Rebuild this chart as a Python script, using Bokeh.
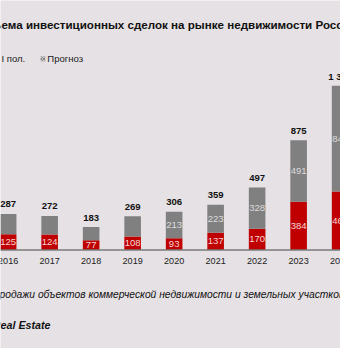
from bokeh.plotting import figure
from bokeh.models import ColumnDataSource, Range1d, Span
from bokeh.core.properties import value
from bokeh.embed import file_html
from bokeh.resources import INLINE

years = [2016, 2017, 2018, 2019, 2020, 2021, 2022, 2023, 2024]
year_labels = ["2016", "2017", "2018", "2019", "2020", "2021", "2022", "2023", "2024"]
first_half = [125, 124, 77, 108, 93, 137, 170, 384, 466]
rest = [162, 148, 106, 161, 213, 223, 328, 491, 844]
rest_labels = ["", "", "", "", "213", "223", "328", "491", "844"]
totals = [287, 272, 183, 269, 306, 359, 497, 875, 1310]
total_labels = ["287", "272", "183", "269", "306", "359", "497", "875", "1 310"]

title_text = "объема инвестиционных сделок на рынке недвижимости России, млрд руб."
legend_labels = ["I пол.", "Прогноз"]
note_text = "продажи объектов коммерческой недвижимости и земельных участков"
source_text = "Real Estate"

BG = "#E6E1E4"
RED = "#C00000"
GREY = "#808080"
FONT = "Liberation Sans"

# reference layout is 356x364; the figure is drawn at 340x348 and scaled
W, H = 340, 348
S = W / 356.0
REF_W, REF_H = 356, 364
PX_X = 43.45          # reference pixels per year
PX_Y = 0.1312         # reference pixels per unit
BASE = 261            # reference baseline pixel from top
X_FIRST = 8           # reference pixel centre of first year

def fs(px):
    return "%.2fpx" % (px * S)

def dy(px):
    return px / PX_Y

def xr(ref_px):
    return years[0] + (ref_px - X_FIRST) / PX_X

def yr(ref_py):
    return (BASE - ref_py) / PX_Y

p = figure(width=W, height=H, output_backend="svg", toolbar_location=None,
           x_range=Range1d(xr(0), xr(REF_W)), y_range=Range1d(yr(REF_H), yr(0)),
           min_border=0, min_border_left=0, min_border_right=0,
           min_border_top=0, min_border_bottom=0)
p.background_fill_color = BG
p.border_fill_color = BG
p.outline_line_color = None
p.axis.visible = False
p.grid.visible = False

tops = [a + b for a, b in zip(first_half, rest)]
src = ColumnDataSource(dict(
    x=years, h1=first_half, h2=rest, top=tops,
    y1=[v / 2 for v in first_half],
    y2=[a + b / 2 for a, b in zip(first_half, rest)],
    l1=[str(v) for v in first_half], l2=rest_labels,
    tl=total_labels, ty=[t + dy(10) for t in totals],
    yl=year_labels, yy=[-dy(11)] * len(years),
))

p.vbar(x="x", width=0.40, bottom=0, top="h1", source=src,
       fill_color=RED, line_color=None)
p.vbar(x="x", width=0.40, bottom="h1", top="top", source=src,
       fill_color=GREY, line_color=None)

p.add_layout(Span(location=0, dimension="width", line_color="#7A7A7A", line_width=1.5))

p.text(x="x", y="y1", text="l1", source=src, text_align="center", text_baseline="middle",
       text_font=value(FONT), text_font_size=fs(10), text_color="#F6D6D6")
p.text(x="x", y="y2", text="l2", source=src, text_align="center", text_baseline="middle",
       text_font=value(FONT), text_font_size=fs(10), text_color="#DCDCDC")
p.text(x="x", y="ty", text="tl", source=src, text_align="center", text_baseline="middle",
       text_font=value(FONT), text_font_size=fs(10), text_font_style="bold", text_color="#111111")
p.text(x="x", y="yy", text="yl", source=src, text_align="center", text_baseline="middle",
       text_font=value(FONT), text_font_size=fs(9.5), text_color="#222222")

# title
p.text(x=[xr(-22.5)], y=[yr(25)], text=[title_text],
       text_align="left", text_baseline="middle", text_font=value(FONT),
       text_font_size=fs(12.15), text_font_style="bold", text_color="#111111")

# legend
p.text(x=[xr(1)], y=[yr(61)], text=[legend_labels[0]],
       text_align="left", text_baseline="middle", text_font=value(FONT),
       text_font_size=fs(10), text_color="#222222")
p.rect(x=[xr(44.5)], y=[yr(61)], width=5 * S, height=5 * S,
       width_units="screen", height_units="screen",
       fill_color="#C8C8C8", line_color=None, hatch_pattern="x", hatch_color="#707070",
       hatch_scale=3, hatch_weight=0.8)
p.text(x=[xr(49)], y=[yr(61)], text=[legend_labels[1]],
       text_align="left", text_baseline="middle", text_font=value(FONT),
       text_font_size=fs(10), text_color="#222222")

# notes
p.text(x=[xr(-7)], y=[yr(307)], text=[note_text],
       text_align="left", text_baseline="middle", text_font=value(FONT),
       text_font_size=fs(10.75), text_font_style="italic", text_color="#111111")
p.text(x=[xr(-8)], y=[yr(339)], text=[source_text],
       text_align="left", text_baseline="middle", text_font=value(FONT),
       text_font_size=fs(11.2), text_font_style="bold italic", text_color="#111111")

open("out.html", "w").write(file_html(p, INLINE))
